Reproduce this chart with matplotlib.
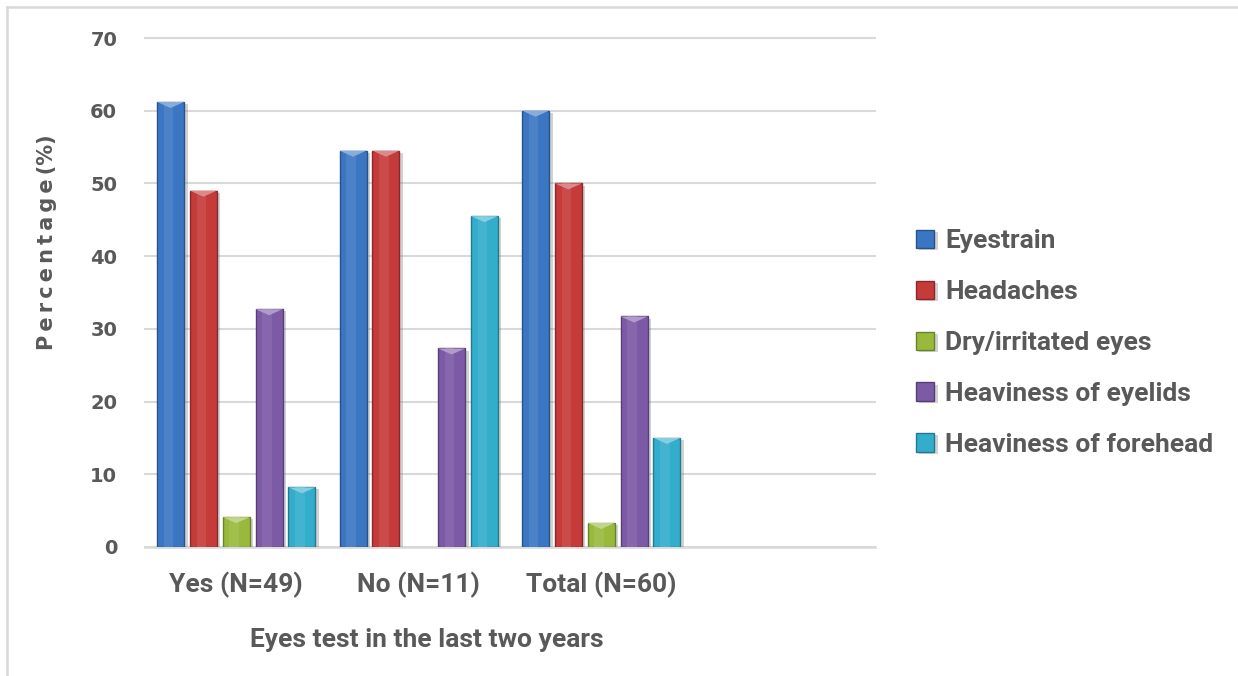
import matplotlib
matplotlib.use("Agg")
import matplotlib.pyplot as plt
import matplotlib.patheffects as pe
import matplotlib.colors as mcolors
from matplotlib.patches import Polygon
from matplotlib.lines import Line2D
import numpy as np

# ---- data -------------------------------------------------------------
categories = ["Yes (N=49)", "No (N=11)", "Total (N=60)"]
series_names = ["Eyestrain", "Headaches", "Dry/irritated eyes",
                "Heaviness of eyelids", "Heaviness of forehead"]
eyestrain = [61.2, 54.5, 60.0]
headaches = [49.0, 54.5, 50.0]
dry_eyes = [4.1, 0.0, 3.3]
eyelids = [32.7, 27.3, 31.7]
forehead = [8.2, 45.5, 15.0]
y_ticks = [0, 10, 20, 30, 40, 50, 60, 70]

series_values = [eyestrain, headaches, dry_eyes, eyelids, forehead]
colors = ["#3a76c2", "#c43b3a", "#98b93c", "#7c5aa6", "#33adcc"]
text_color = "#595959"
grid_color = "#d9d9d9"
label_font = ["Roboto", "DejaVu Sans"]


def mix(c, other, t):
    a = np.array(mcolors.to_rgb(c))
    b = np.array(mcolors.to_rgb(other))
    return tuple(a * (1 - t) + b * t)


W, H = 1238, 676
fig = plt.figure(figsize=(W / 100, H / 100), dpi=100)
ax = fig.add_axes([145 / W, 1 - 547 / H, 730 / W, 509 / H])

n_slots = 4
slot = 0.18
bar_w = 0.148
x = np.arange(len(categories))

ax.set_xlim(-0.5, n_slots - 0.5)
ax.set_ylim(0, 70)

px_per_unit = (ax.transData.transform((0, 1))[1] -
               ax.transData.transform((0, 0))[1])
bevel = 6 / px_per_unit

shadow = [pe.SimplePatchShadow(offset=(2.5, -1.5), shadow_rgbFace="#808080",
                               alpha=0.35), pe.Normal()]

for i, (vals, col) in enumerate(zip(series_values, colors)):
    bars = ax.bar(x + (i - 2) * slot, vals, width=bar_w, color=col,
                  edgecolor=mix(col, "black", 0.3), linewidth=1.0,
                  zorder=3, label=series_names[i], path_effects=shadow)
    for b in bars:
        h = b.get_height()
        if h <= 0:
            b.set_visible(False)
            continue
        x0, w = b.get_x(), b.get_width()
        # lighter centre stripe for a rounded look
        ax.add_patch(Polygon([(x0 + w * 0.25, 0), (x0 + w * 0.6, 0),
                              (x0 + w * 0.6, h), (x0 + w * 0.25, h)],
                             closed=True, facecolor=mix(col, "white", 0.08),
                             edgecolor="none", zorder=3.5))
        d = min(bevel, h * 0.5)
        ax.add_patch(Polygon([(x0, h), (x0 + w, h), (x0 + w / 2, h - d)],
                             closed=True, facecolor=mix(col, "white", 0.4),
                             edgecolor="none", zorder=4))

# ---- axes styling -----------------------------------------------------
ax.set_yticks(y_ticks)
ax.yaxis.grid(True, color=grid_color, linewidth=1.5, zorder=0)
for gl in ax.get_ygridlines():
    gl.set_clip_on(False)
ax.set_axisbelow(True)
for s in ["top", "right", "left"]:
    ax.spines[s].set_visible(False)
ax.spines["bottom"].set_color(grid_color)
ax.spines["bottom"].set_linewidth(1.8)
ax.tick_params(axis="y", length=0, pad=20, labelcolor=text_color)
ax.tick_params(axis="x", length=0, pad=18, labelcolor=text_color)
for lab in ax.get_yticklabels():
    lab.set_fontfamily("DejaVu Sans")
    lab.set_fontweight("bold")
    lab.set_fontsize(14)

ax.set_xticks(x)
ax.set_xticklabels(categories, family=label_font, fontweight="bold",
                   fontsize=19)

thin = "\u2009"
fig.text(47 / W, 1 - 242 / H, thin.join("Percentage") + thin + "(%)",
         rotation=90, ha="center", va="center", color=text_color,
         fontsize=15, fontweight="bold", family="DejaVu Sans")
fig.text(427 / W, 1 - 640 / H, "Eyes test in the last two years",
         ha="center", va="center", color=text_color, fontsize=19,
         fontweight="bold", family=label_font)

leg = ax.legend(loc="center left", bbox_to_anchor=(916 / W, 1 - 343 / H),
                bbox_transform=fig.transFigure, frameon=False,
                prop={"family": label_font, "weight": "bold", "size": 19},
                labelcolor=text_color, handlelength=0.7, handleheight=0.7,
                handletextpad=0.4, labelspacing=1.02, borderpad=0,
                borderaxespad=0)

# outer chart border (top and left)
fig.add_artist(Line2D([7 / W, 7 / W], [0, 1 - 7 / H], color=grid_color,
                      linewidth=1.8, transform=fig.transFigure))
fig.add_artist(Line2D([7 / W, 1], [1 - 7 / H, 1 - 7 / H], color=grid_color,
                      linewidth=1.8, transform=fig.transFigure))

fig.savefig("out.png", dpi=100)
